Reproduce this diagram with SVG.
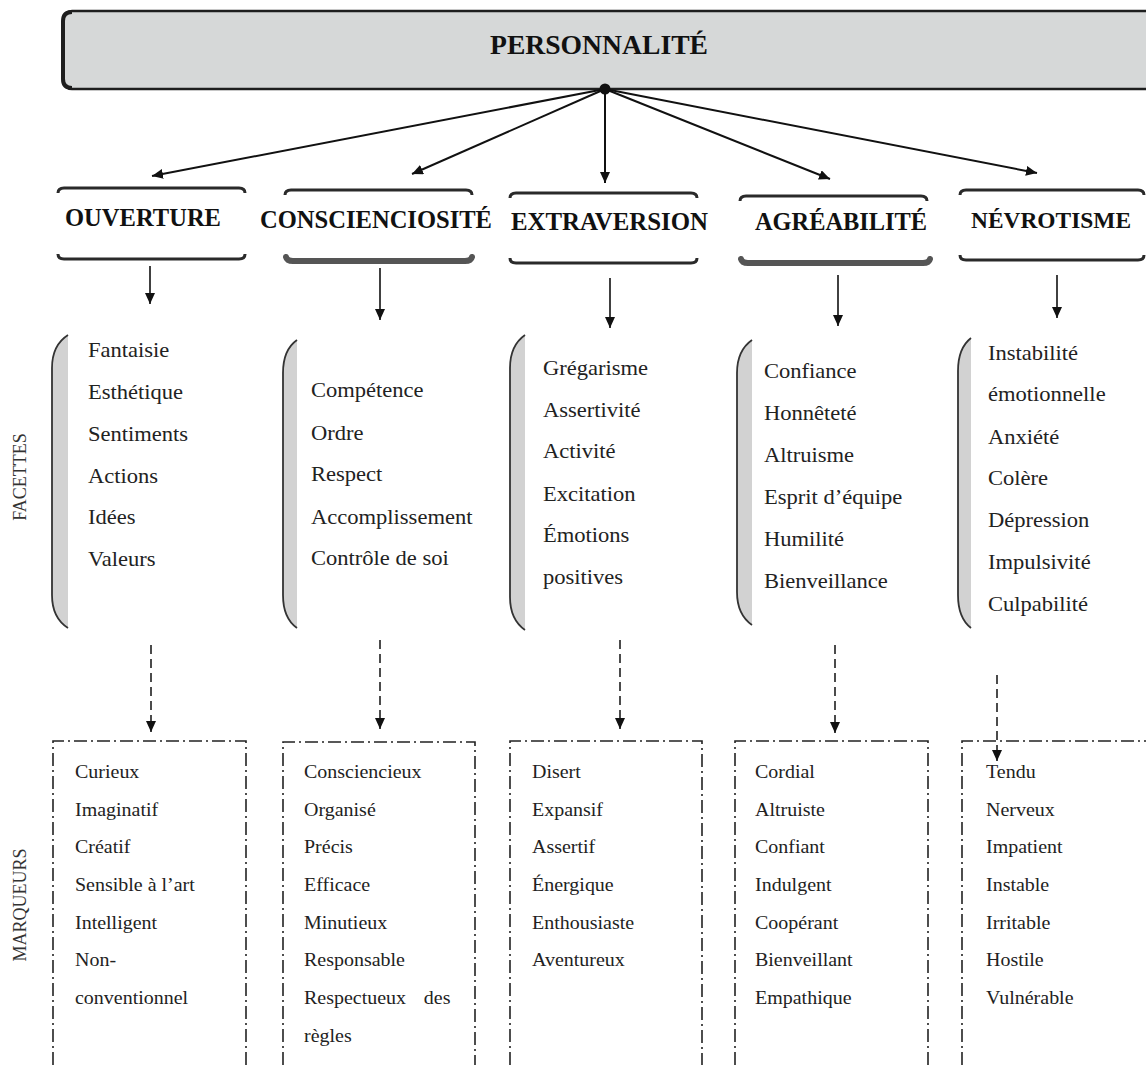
<svg xmlns="http://www.w3.org/2000/svg" width="1146" height="1065" viewBox="0 0 1146 1065">
  <defs>
    <marker id="arr" markerUnits="userSpaceOnUse" markerWidth="12" markerHeight="10" refX="11" refY="5" orient="auto">
      <path d="M0,0 L11,5 L0,10 Z" fill="#111"/>
    </marker>
    <style>
      .title { font-family: "Liberation Serif", "Times New Roman", serif; font-weight: bold; font-size: 28px; fill: #111; }
      .head { font-family: "Liberation Serif", "Times New Roman", serif; font-weight: bold; font-size: 26px; fill: #111; }
      .head.narrow { font-size: 23px; }
      .facet { font-family: "Liberation Serif", "Times New Roman", serif; font-size: 20.5px; fill: #222; }
      .mark { font-family: "Liberation Serif", "Times New Roman", serif; font-size: 18.5px; fill: #222; }
      .side { font-family: "Liberation Serif", "Times New Roman", serif; font-size: 18px; fill: #333; }
      .hline { fill: none; stroke: #2a2a2a; stroke-width: 3; }
      .hthick { fill: none; stroke: #555; stroke-width: 6; stroke-linecap: round; }
      .brfill { fill: #d2d2d2; stroke: none; }
      .brline { fill: none; stroke: #333; stroke-width: 1.8; }
      .box { fill: none; stroke: #222; stroke-width: 1.6; stroke-dasharray: 13 4 2 4; }
      .solid { stroke: #111; stroke-width: 1.6; fill: none; marker-end: url(#arr); }
      .top { stroke: #111; stroke-width: 2; fill: none; marker-end: url(#arr); }
      .dash { stroke: #111; stroke-width: 1.5; fill: none; stroke-dasharray: 9 5; marker-end: url(#arr); }
    </style>
  </defs>

  <rect width="1146" height="1065" fill="#ffffff"/>

  <!-- root node -->
  <g id="personnalite">
    <rect x="63" y="11" width="1110" height="78" rx="9" fill="#d6d8d8" stroke="#1e1e1e" stroke-width="2.5"/>
    <path d="M72,12 Q63,12 63,21 V79 Q63,88 72,88" fill="none" stroke="#1e1e1e" stroke-width="4"/>
    <text class="title" x="599" y="54" text-anchor="middle" textLength="218" lengthAdjust="spacingAndGlyphs">PERSONNALITÉ</text>
  </g>

  <!-- trait headers: a rule above and below each name -->
  <g id="ouverture">
    <path class="hline" d="M58,193 Q58,188 64,188 H239 Q245,188 245,193"/>
    <path class="hline" d="M58,254 Q58,259 64,259 H239 Q245,259 245,254"/>
    <text class="head" x="65" y="226" textLength="156" lengthAdjust="spacingAndGlyphs">OUVERTURE</text>
  </g>
  <g id="conscienciosite">
    <path class="hline" d="M285,195 Q285,190 291,190 H466 Q472,190 472,195"/>
    <path class="hthick" d="M286,257 Q287,261 293,261 H465 Q471,261 472,257"/>
    <text class="head" x="260" y="228" textLength="232" lengthAdjust="spacingAndGlyphs">CONSCIENCIOSITÉ</text>
  </g>
  <g id="extraversion">
    <path class="hline" d="M510,198 Q510,193 516,193 H691 Q697,193 697,198"/>
    <path class="hline" d="M510,258 Q510,263 516,263 H691 Q697,263 697,258"/>
    <text class="head" x="511" y="230" textLength="197" lengthAdjust="spacingAndGlyphs">EXTRAVERSION</text>
  </g>
  <g id="agreabilite">
    <path class="hline" d="M740,201 Q740,196 746,196 H921 Q927,196 927,201"/>
    <path class="hthick" d="M741,259 Q742,263 748,263 H923 Q929,263 930,259"/>
    <text class="head" x="755" y="230" textLength="172" lengthAdjust="spacingAndGlyphs">AGRÉABILITÉ</text>
  </g>
  <g id="nevrotisme">
    <path class="hline" d="M960,195 Q960,190 966,190 H1138 Q1144,190 1144,195"/>
    <path class="hline" d="M960,255 Q960,260 966,260 H1138 Q1144,260 1144,255"/>
    <text class="head narrow" x="971" y="228" textLength="160" lengthAdjust="spacingAndGlyphs">NÉVROTISME</text>
  </g>

  <!-- side labels -->
  <g id="label-facettes">
    <text class="side" transform="translate(26,477) rotate(-90)" text-anchor="middle">FACETTES</text>
  </g>
  <g id="label-marqueurs">
    <text class="side" transform="translate(26,905) rotate(-90)" text-anchor="middle">MARQUEURS</text>
  </g>

  <!-- facet lists -->
  <g id="facettes-ouverture">
    <path class="brfill" d="M68,335 C57,342 52,352 52,368 V595 C52,611 57,621 68,628 Z"/>
    <path class="brline" d="M68,335 C57,342 52,352 52,368 V595 C52,611 57,621 68,628"/>
    <g class="facet" transform="translate(88,0) scale(1.1,1)">
      <text x="0" y="357">Fantaisie</text>
      <text x="0" y="399">Esthétique</text>
      <text x="0" y="441">Sentiments</text>
      <text x="0" y="483">Actions</text>
      <text x="0" y="524">Idées</text>
      <text x="0" y="566">Valeurs</text>
    </g>
  </g>
  <g id="facettes-conscienciosite">
    <path class="brfill" d="M297,340 C287,347 283,357 283,373 V595 C283,611 287,621 297,628 Z"/>
    <path class="brline" d="M297,340 C287,347 283,357 283,373 V595 C283,611 287,621 297,628"/>
    <g class="facet" transform="translate(311,0) scale(1.1,1)">
      <text x="0" y="397">Compétence</text>
      <text x="0" y="440">Ordre</text>
      <text x="0" y="481">Respect</text>
      <text x="0" y="524">Accomplissement</text>
      <text x="0" y="565">Contrôle de soi</text>
    </g>
  </g>
  <g id="facettes-extraversion">
    <path class="brfill" d="M525,335 C515,342 510,352 510,368 V597 C510,613 515,623 525,630 Z"/>
    <path class="brline" d="M525,335 C515,342 510,352 510,368 V597 C510,613 515,623 525,630"/>
    <g class="facet" transform="translate(543,0) scale(1.1,1)">
      <text x="0" y="375">Grégarisme</text>
      <text x="0" y="417">Assertivité</text>
      <text x="0" y="458">Activité</text>
      <text x="0" y="501">Excitation</text>
      <text x="0" y="542">Émotions</text>
      <text x="0" y="584">positives</text>
    </g>
  </g>
  <g id="facettes-agreabilite">
    <path class="brfill" d="M752,340 C742,347 737,357 737,373 V592 C737,608 742,618 752,625 Z"/>
    <path class="brline" d="M752,340 C742,347 737,357 737,373 V592 C737,608 742,618 752,625"/>
    <g class="facet" transform="translate(764,0) scale(1.1,1)">
      <text x="0" y="378">Confiance</text>
      <text x="0" y="420">Honnêteté</text>
      <text x="0" y="462">Altruisme</text>
      <text x="0" y="504">Esprit d’équipe</text>
      <text x="0" y="546">Humilité</text>
      <text x="0" y="588">Bienveillance</text>
    </g>
  </g>
  <g id="facettes-nevrotisme">
    <path class="brfill" d="M971,338 C962,345 958,355 958,371 V595 C958,611 962,621 971,628 Z"/>
    <path class="brline" d="M971,338 C962,345 958,355 958,371 V595 C958,611 962,621 971,628"/>
    <g class="facet" transform="translate(988,0) scale(1.1,1)">
      <text x="0" y="360">Instabilité</text>
      <text x="0" y="401">émotionnelle</text>
      <text x="0" y="444">Anxiété</text>
      <text x="0" y="485">Colère</text>
      <text x="0" y="527">Dépression</text>
      <text x="0" y="569">Impulsivité</text>
      <text x="0" y="611">Culpabilité</text>
    </g>
  </g>

  <!-- marker lists -->
  <g id="marqueurs-ouverture">
    <path class="box" d="M53,1065 V741 H246 V1065"/>
    <g class="mark" transform="translate(75,0) scale(1.08,1)">
      <text x="0" y="778">Curieux</text>
      <text x="0" y="816">Imaginatif</text>
      <text x="0" y="853">Créatif</text>
      <text x="0" y="891">Sensible à l’art</text>
      <text x="0" y="929">Intelligent</text>
      <text x="0" y="966">Non-</text>
      <text x="0" y="1004">conventionnel</text>
    </g>
  </g>
  <g id="marqueurs-conscienciosite">
    <path class="box" d="M283,1065 V742 H475 V1065"/>
    <g class="mark" transform="translate(304,0) scale(1.08,1)">
      <text x="0" y="778">Consciencieux</text>
      <text x="0" y="816">Organisé</text>
      <text x="0" y="853">Précis</text>
      <text x="0" y="891">Efficace</text>
      <text x="0" y="929">Minutieux</text>
      <text x="0" y="966">Responsable</text>
      <text x="0" y="1004">Respectueux<tspan x="111">des</tspan></text>
      <text x="0" y="1042">règles</text>
    </g>
  </g>
  <g id="marqueurs-extraversion">
    <path class="box" d="M510,1065 V741 H702 V1065"/>
    <g class="mark" transform="translate(532,0) scale(1.08,1)">
      <text x="0" y="778">Disert</text>
      <text x="0" y="816">Expansif</text>
      <text x="0" y="853">Assertif</text>
      <text x="0" y="891">Énergique</text>
      <text x="0" y="929">Enthousiaste</text>
      <text x="0" y="966">Aventureux</text>
    </g>
  </g>
  <g id="marqueurs-agreabilite">
    <path class="box" d="M735,1065 V741 H928 V1065"/>
    <g class="mark" transform="translate(755,0) scale(1.08,1)">
      <text x="0" y="778">Cordial</text>
      <text x="0" y="816">Altruiste</text>
      <text x="0" y="853">Confiant</text>
      <text x="0" y="891">Indulgent</text>
      <text x="0" y="929">Coopérant</text>
      <text x="0" y="966">Bienveillant</text>
      <text x="0" y="1004">Empathique</text>
    </g>
  </g>
  <g id="marqueurs-nevrotisme">
    <path class="box" d="M962,1065 V741 H1150"/>
    <g class="mark" transform="translate(986,0) scale(1.08,1)">
      <text x="0" y="778">Tendu</text>
      <text x="0" y="816">Nerveux</text>
      <text x="0" y="853">Impatient</text>
      <text x="0" y="891">Instable</text>
      <text x="0" y="929">Irritable</text>
      <text x="0" y="966">Hostile</text>
      <text x="0" y="1004">Vulnérable</text>
    </g>
  </g>

  <!-- connectors -->
  <g id="connectors">
    <line class="top" x1="605" y1="89" x2="152" y2="176"/>
    <line class="top" x1="605" y1="89" x2="412" y2="174"/>
    <line class="top" x1="605" y1="89" x2="605" y2="183"/>
    <line class="top" x1="605" y1="89" x2="830" y2="179"/>
    <line class="top" x1="605" y1="89" x2="1037" y2="173"/>
    <circle cx="605" cy="89" r="5.5" fill="#111"/>

    <line class="solid" x1="150" y1="266" x2="150" y2="304"/>
    <line class="solid" x1="380" y1="268" x2="380" y2="320"/>
    <line class="solid" x1="610" y1="278" x2="610" y2="328"/>
    <line class="solid" x1="838" y1="275" x2="838" y2="326"/>
    <line class="solid" x1="1057" y1="275" x2="1057" y2="318"/>

    <line class="dash" x1="151" y1="645" x2="151" y2="732"/>
    <line class="dash" x1="380" y1="640" x2="380" y2="729"/>
    <line class="dash" x1="620" y1="640" x2="620" y2="729"/>
    <line class="dash" x1="835" y1="645" x2="835" y2="733"/>
    <line class="dash" x1="997" y1="675" x2="997" y2="761"/>
  </g>
</svg>
